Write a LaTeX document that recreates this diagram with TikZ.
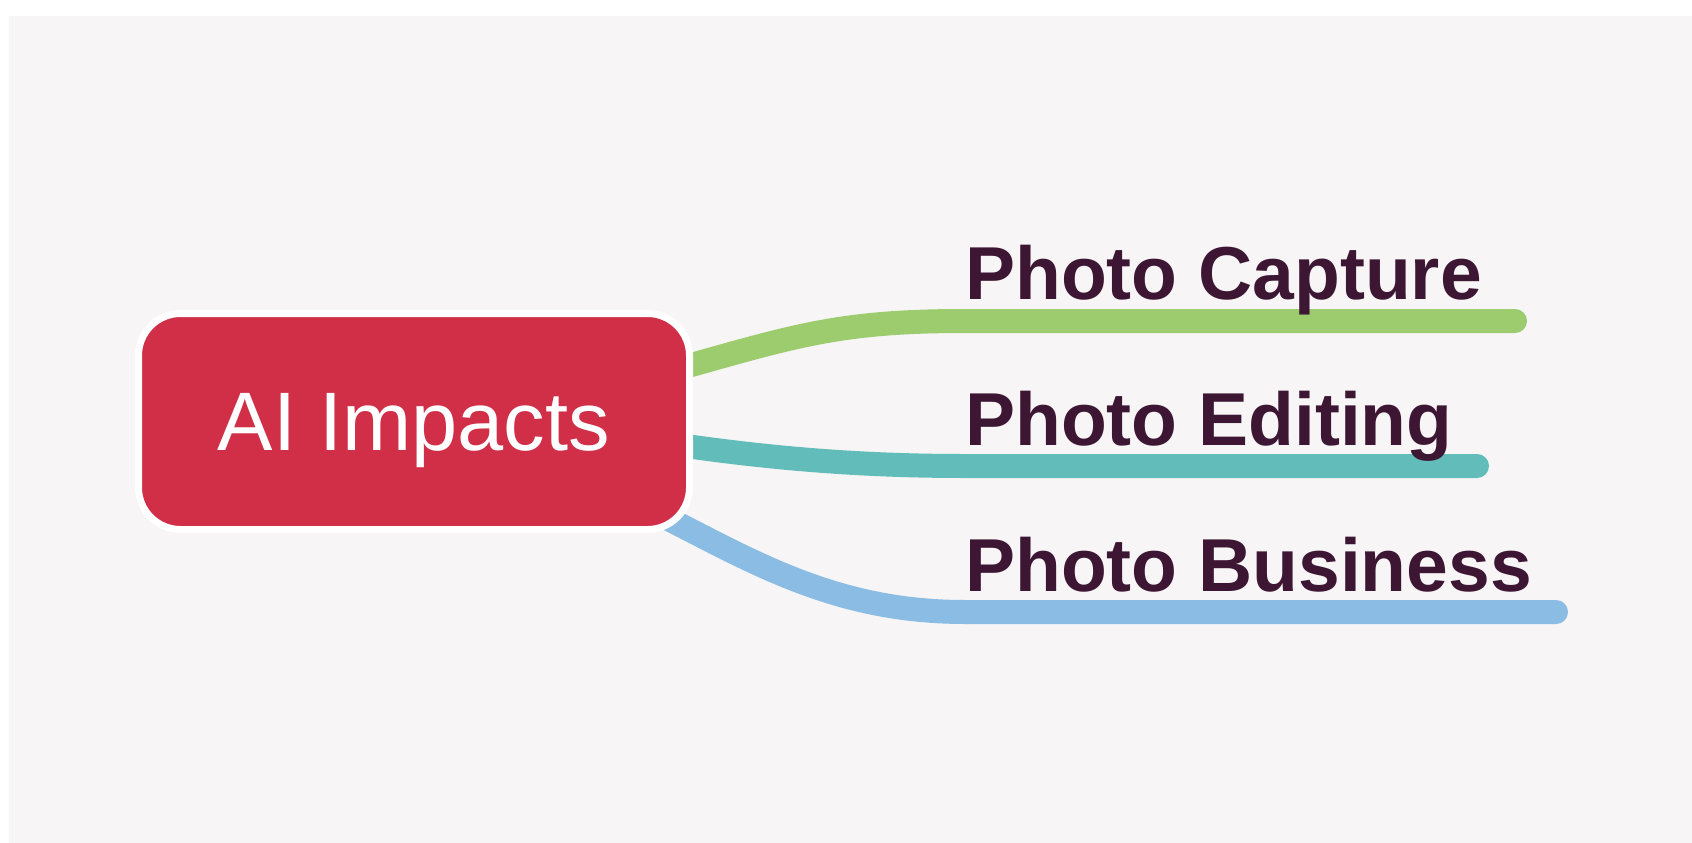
\documentclass[tikz,border=0pt]{standalone}
\usepackage{fontspec}
\setmainfont{Liberation Sans}
\usepackage{tikz}
\usetikzlibrary{positioning, calc}
\definecolor{paper}{HTML}{F7F5F5}
\definecolor{hubred}{HTML}{D12F48}
\definecolor{plum}{HTML}{3D1634}
\definecolor{leafgreen}{HTML}{9CCC6E}
\definecolor{leafteal}{HTML}{62BCB9}
\definecolor{leafblue}{HTML}{8BBDE4}
\pgfdeclarelayer{backdrop}
\pgfdeclarelayer{links}
\pgfsetlayers{backdrop,links,main}
\tikzset{
  hub/.style = {
    rectangle, rounded corners=42pt, draw=white, line width=7pt,
    fill=hubred, minimum width=551pt, minimum height=216pt,
    inner sep=0pt, outer sep=0pt, text depth=0pt,
    text=white, font=\fontsize{83}{90}\selectfont
  },
  leaf/.style = {
    anchor=base west, inner sep=0pt,
    text=plum, font=\fontsize{75}{80}\selectfont\bfseries
  },
  branch/.style = {line width=24pt, line cap=round}
}

\begin{document}
\begin{tikzpicture}[x=1pt, y=-1pt]
  \useasboundingbox (0,0) rectangle (1692,843);
  \begin{pgfonlayer}{backdrop}
    \fill[paper] (9,16) rectangle (1692,843);
  \end{pgfonlayer}
  % Central topic
  \node[hub] (impact) at (414,421.5) {AI Impacts};
  % Branch titles
  \node[leaf] (capture)  at (965,299) {Photo Capture};
  \node[leaf] (editing)  at (965,445) {Photo Editing};
  \node[leaf] (business) at (965,591) {Photo Business};
  % Branch ends
  \coordinate (capend) at (1515,321);
  \coordinate (editend) at (1477,466);
  \coordinate (busend) at (1556,612);
  % Branches
  \begin{pgfonlayer}{links}
    \draw[branch, leafgreen] ([shift={(0,-56)}]impact.east)
      .. controls +(110,-31) and +(-120,0) .. (capture.base west |- capend) -- (capend);
    \draw[branch, leafteal] ([shift={(0,25)}]impact.east)
      .. controls +(100,14) and +(-90,0) .. (editing.base west |- editend) -- (editend);
    \draw[branch, leafblue] ([shift={(-20,98)}]impact.east)
      .. controls +(90,46) and +(-125,0) .. (business.base west |- busend) -- (busend);
  \end{pgfonlayer}
\end{tikzpicture}
\end{document}
